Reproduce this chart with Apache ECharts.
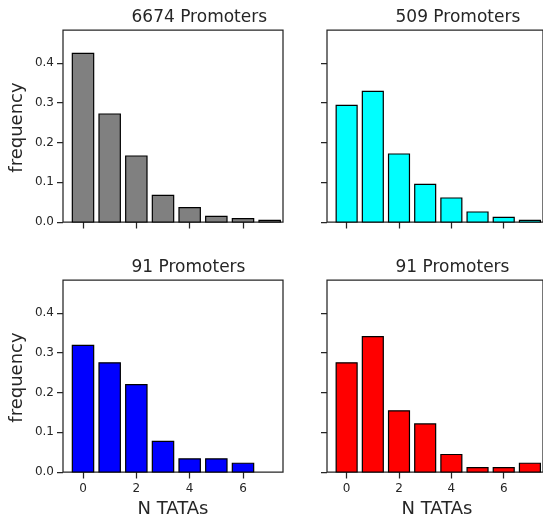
<!DOCTYPE html>
<html>
<head>
<meta charset="utf-8">
<script src="https://cdn.jsdelivr.net/npm/echarts@6/dist/echarts.min.js"></script>
<style>
  html, body { margin: 0; padding: 0; background: #fff; }
  #chart { width: 543px; height: 519px; }
</style>
</head>
<body>
<div id="chart"></div>
<script>
// Number of TATA boxes per promoter (bar positions on the x axis)
const nTatas = [0, 1, 2, 3, 4, 5, 6, 7];

// Frequency of promoters with N TATA boxes, one array per promoter set
const freqAll6674 = [0.4244, 0.2717, 0.1660, 0.0672, 0.0360, 0.0143, 0.0084, 0.0042];
const freqSet509  = [0.2935, 0.3288, 0.1710, 0.0948, 0.0604, 0.0252, 0.0118, 0.0040];
const freqSetA91  = [0.3187, 0.2747, 0.2198, 0.0769, 0.0330, 0.0330, 0.0220, 0];
const freqSetB91  = [0.2747, 0.3407, 0.1538, 0.1209, 0.0440, 0.0110, 0.0110, 0.0220];

const panelTitles = ['6674 Promoters', '509 Promoters', '91 Promoters', '91 Promoters'];
const panelColors = ['#808080', '#00ffff', '#0000ff', '#ff0000'];
const panelData = [freqAll6674, freqSet509, freqSetA91, freqSetB91];

const xTicks = [0, 2, 4, 6];
const yTicks = [0, 0.1, 0.2, 0.3, 0.4];
const xLabel = 'N TATAs';
const yLabel = 'frequency';

const FONT = 'DejaVu Sans';
const INK = '#262626';
const BAR_WIDTH = 0.8;

// panel layout: [left, top] in px; all panels share the same size
const panelPos = [[63, 30], [327, 30], [63, 280], [327, 280]];
const PW = 220, PH = 192;

const grids = [], xAxes = [], yAxes = [], series = [], titles = [];

panelPos.forEach(function (pos, i) {
  const isLeft = i % 2 === 0;
  const isBottom = i >= 2;
  grids.push({
    left: pos[0], top: pos[1], width: PW, height: PH,
    show: true, borderColor: INK, borderWidth: 1.25, backgroundColor: 'transparent'
  });
  xAxes.push({
    gridIndex: i, type: 'value', min: -0.75, max: 7.5,
    splitLine: { show: false },
    axisLine: { show: false, onZero: false },
    axisTick: { show: true, inside: false, length: 6.5, customValues: xTicks,
                lineStyle: { color: INK, width: 1.25 } },
    axisLabel: { show: isBottom, customValues: xTicks, margin: 10.5,
                 color: INK, fontFamily: FONT, fontSize: 12 }
  });
  yAxes.push({
    gridIndex: i, type: 'value', min: 0, max: 0.483,
    splitLine: { show: false },
    axisLine: { show: false, onZero: false },
    axisTick: { show: true, inside: false, length: 6, customValues: yTicks,
                lineStyle: { color: INK, width: 1.25 } },
    axisLabel: { show: isLeft, customValues: yTicks, margin: 9,
                 color: INK, fontFamily: FONT, fontSize: 12,
                 formatter: function (v) { return v.toFixed(1); } }
  });
  const color = panelColors[i];
  series.push({
    type: 'custom',
    xAxisIndex: i, yAxisIndex: i,
    data: nTatas.map(function (n, k) { return [n, panelData[i][k]]; }),
    renderItem: function (params, api) {
      const x = api.value(0), v = api.value(1);
      if (!(v > 0)) return null;
      const p0 = api.coord([x - BAR_WIDTH / 2, v]);
      const p1 = api.coord([x + BAR_WIDTH / 2, 0]);
      return {
        type: 'rect',
        shape: { x: p0[0], y: p0[1], width: p1[0] - p0[0], height: p1[1] - p0[1] },
        style: { fill: color, stroke: '#000', lineWidth: 1.2 }
      };
    },
    z: 1
  });
  titles.push({
    text: panelTitles[i],
    left: pos[0] + 68.5, top: pos[1] - 21,
    padding: 0,
    textStyle: { color: INK, fontFamily: FONT, fontSize: 17, fontWeight: 'normal' }
  });
});

const graphics = [];
[[63, 30], [63, 280]].forEach(function (pos) {
  graphics.push({
    type: 'text', x: 17.5, y: pos[1] + PH / 2 + 1.5, rotation: Math.PI / 2,
    style: { text: yLabel, fill: INK, font: '18px "' + FONT + '"',
             textAlign: 'center', textVerticalAlign: 'middle' }
  });
});
[[63, 280], [327, 280]].forEach(function (pos) {
  graphics.push({
    type: 'text', x: pos[0] + PW / 2, y: 509,
    style: { text: xLabel, fill: INK, font: '18px "' + FONT + '"',
             textAlign: 'center', textVerticalAlign: 'middle' }
  });
});

const chart = echarts.init(document.getElementById('chart'), null, { renderer: 'canvas' });
chart.setOption({
  animation: false,
  backgroundColor: '#ffffff',
  title: titles,
  grid: grids,
  xAxis: xAxes,
  yAxis: yAxes,
  series: series,
  graphic: graphics
});
</script>
</body>
</html>
